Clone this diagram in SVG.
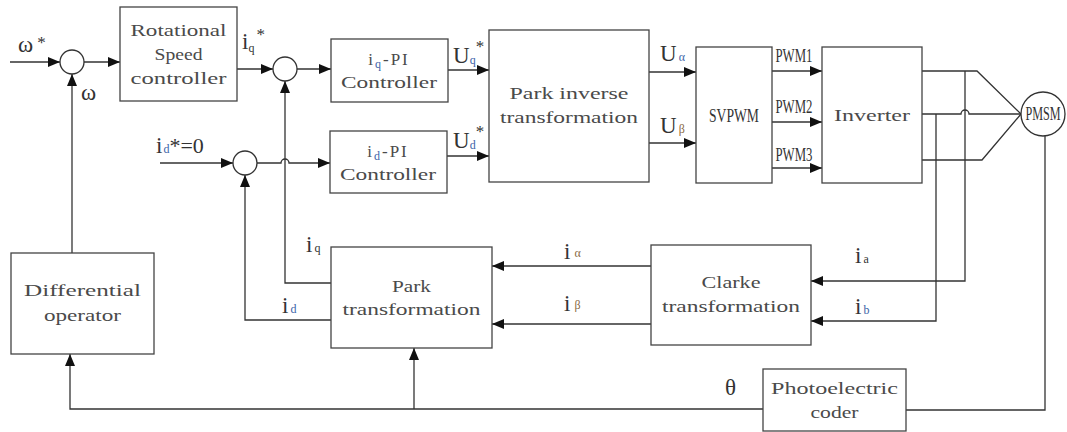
<svg xmlns="http://www.w3.org/2000/svg" width="1067" height="432" viewBox="0 0 1067 432">
  <defs>
    <marker id="arrow" markerUnits="userSpaceOnUse" markerWidth="12" markerHeight="10" refX="12" refY="5" orient="auto">
      <path d="M0,0 L12,5 L0,10 z" fill="#111"/>
    </marker>
    <style>
      .box { fill: #fff; stroke: #444; stroke-width: 1.3; }
      .sum { fill: #fff; stroke: #333; stroke-width: 1.3; }
      .wire { fill: none; stroke: #333; stroke-width: 1.3; }
      .arr { marker-end: url(#arrow); }
      .t { font-family: "Liberation Serif", "DejaVu Serif", serif; font-size: 17px; fill: #4a4a4a; text-anchor: middle; }
      .n { font-family: "Liberation Serif", "DejaVu Serif", serif; font-size: 19px; fill: #333; text-anchor: middle; }
      .lbl { font-family: "Liberation Serif", "DejaVu Serif", serif; font-size: 23px; fill: #333; }
      .sub { font-size: 12px; }
      .sup { font-size: 17px; }
      .blue { fill: #3b63a8; }
      .brown { fill: #8a6a44; }
    </style>
  </defs>

  <!-- connectors -->
  <g id="connectors">
    <!-- speed loop -->
    <path class="wire arr" d="M10,62 H60"/>
    <path class="wire arr" d="M84,62 H120"/>
    <path class="wire arr" d="M72,253 V74"/>
    <!-- current references -->
    <path class="wire arr" d="M237,69 H273"/>
    <path class="wire arr" d="M297,69 H331"/>
    <path class="wire arr" d="M160,163 H233"/>
    <path class="wire arr" d="M257,163 H281 a4,4 0 0 1 8,0 H330"/>
    <!-- PI outputs -->
    <path class="wire arr" d="M448,70 H489"/>
    <path class="wire arr" d="M447,156 H489"/>
    <!-- voltages -->
    <path class="wire arr" d="M649,72 H696"/>
    <path class="wire arr" d="M649,143 H696"/>
    <!-- PWM signals -->
    <path class="wire arr" d="M772,71 H822"/>
    <path class="wire arr" d="M772,122 H822"/>
    <path class="wire arr" d="M772,168 H822"/>
    <!-- phase lines to motor -->
    <path class="wire" d="M922,71 H977 L1021,114"/>
    <path class="wire" d="M922,114 H961 a4,4 0 0 1 8,0 H1021"/>
    <path class="wire" d="M922,160 H982 L1021,114"/>
    <!-- phase current sensing -->
    <path class="wire arr" d="M965,71 V281 H811"/>
    <path class="wire arr" d="M936,114 V321 H811"/>
    <!-- Clarke to Park -->
    <path class="wire arr" d="M651,266 H492"/>
    <path class="wire arr" d="M651,324 H492"/>
    <!-- current feedback -->
    <path class="wire arr" d="M331,283 H285 V81"/>
    <path class="wire arr" d="M331,320 H245 V175"/>
    <!-- position feedback -->
    <path class="wire" d="M1045,136 V410 H906"/>
    <path class="wire arr" d="M763,409 H70 V354"/>
    <path class="wire arr" d="M414,409 V348"/>
  </g>

  <!-- summing junctions -->
  <g id="sum-speed"><circle class="sum" cx="72" cy="62" r="12"/></g>
  <g id="sum-iq"><circle class="sum" cx="285" cy="69" r="12"/></g>
  <g id="sum-id"><circle class="sum" cx="245" cy="163" r="12"/></g>

  <!-- blocks -->
  <g id="speed-controller">
    <rect class="box" x="120" y="7" width="117" height="94"/>
    <text class="t" x="178.5" y="36" textLength="96" lengthAdjust="spacingAndGlyphs">Rotational</text>
    <text class="t" x="178.5" y="60" textLength="48" lengthAdjust="spacingAndGlyphs">Speed</text>
    <text class="t" x="178.5" y="84" textLength="96" lengthAdjust="spacingAndGlyphs">controller</text>
  </g>
  <g id="iq-pi">
    <rect class="box" x="331" y="39" width="117" height="63"/>
    <text class="t" x="389" y="65" letter-spacing="2">i<tspan class="sub blue" dy="3">q</tspan><tspan dy="-3">-PI</tspan></text>
    <text class="t" x="389" y="88" textLength="96" lengthAdjust="spacingAndGlyphs">Controller</text>
  </g>
  <g id="id-pi">
    <rect class="box" x="330" y="131" width="117" height="62"/>
    <text class="t" x="388" y="157" letter-spacing="2">i<tspan class="sub blue" dy="3">d</tspan><tspan dy="-3">-PI</tspan></text>
    <text class="t" x="388" y="180" textLength="96" lengthAdjust="spacingAndGlyphs">Controller</text>
  </g>
  <g id="park-inverse">
    <rect class="box" x="489" y="30" width="160" height="152"/>
    <text class="t" x="569" y="99" textLength="119" lengthAdjust="spacingAndGlyphs">Park inverse</text>
    <text class="t" x="569" y="123" textLength="138" lengthAdjust="spacingAndGlyphs">transformation</text>
  </g>
  <g id="svpwm">
    <rect class="box" x="696" y="47" width="76" height="136"/>
    <text class="n" x="734" y="122" textLength="50" lengthAdjust="spacingAndGlyphs">SVPWM</text>
  </g>
  <g id="inverter">
    <rect class="box" x="822" y="47" width="100" height="136"/>
    <text class="t" x="872" y="121" textLength="76" lengthAdjust="spacingAndGlyphs">Inverter</text>
  </g>
  <g id="pmsm">
    <circle class="sum" cx="1043" cy="114" r="22"/>
    <text class="n" transform="translate(1043,120) scale(0.64,1)" x="0" y="0" font-size="18">PMSM</text>
  </g>
  <g id="differential">
    <rect class="box" x="11" y="253" width="143" height="101"/>
    <text class="t" x="82.5" y="296" textLength="117" lengthAdjust="spacingAndGlyphs">Differential</text>
    <text class="t" x="82.5" y="321" textLength="77" lengthAdjust="spacingAndGlyphs">operator</text>
  </g>
  <g id="park">
    <rect class="box" x="331" y="247" width="161" height="101"/>
    <text class="t" x="411.5" y="292" textLength="39" lengthAdjust="spacingAndGlyphs">Park</text>
    <text class="t" x="411.5" y="315" textLength="138" lengthAdjust="spacingAndGlyphs">transformation</text>
  </g>
  <g id="clarke">
    <rect class="box" x="651" y="245" width="160" height="100"/>
    <text class="t" x="731" y="288" textLength="59" lengthAdjust="spacingAndGlyphs">Clarke</text>
    <text class="t" x="731" y="312" textLength="138" lengthAdjust="spacingAndGlyphs">transformation</text>
  </g>
  <g id="encoder">
    <rect class="box" x="763" y="369" width="143" height="62"/>
    <text class="t" x="834.5" y="394" textLength="127" lengthAdjust="spacingAndGlyphs">Photoelectric</text>
    <text class="t" x="834.5" y="418" textLength="48" lengthAdjust="spacingAndGlyphs">coder</text>
  </g>

  <!-- signal labels -->
  <g id="labels">
    <text class="lbl" x="18" y="52" font-size="21">ω<tspan class="sup" dx="4" dy="-4">*</tspan></text>
    <text class="lbl" x="81" y="100" font-size="20">ω</text>
    <text class="lbl" x="242" y="49">i<tspan class="sub" font-size="15" dy="3">q</tspan><tspan class="sup" dx="2" dy="-12">*</tspan></text>
    <text class="lbl" x="156" y="153">i<tspan class="sub blue" dx="1" dy="0">d</tspan><tspan font-size="22" dy="0">*=0</tspan></text>
    <text class="lbl" x="453" y="63" font-size="22">U<tspan class="sub blue" font-size="14" dy="1">q</tspan><tspan class="sup" dy="-12">*</tspan></text>
    <text class="lbl" x="453" y="148" font-size="22">U<tspan class="sub blue" font-size="14" dy="1">d</tspan><tspan class="sup" dy="-12">*</tspan></text>
    <text class="lbl" x="660" y="61" font-size="20">U<tspan class="sub blue" dx="2">α</tspan></text>
    <text class="lbl" x="660" y="133" font-size="20">U<tspan class="sub brown" dx="2">β</tspan></text>
    <text class="n" x="794" y="62" font-size="18" textLength="37" lengthAdjust="spacingAndGlyphs">PWM1</text>
    <text class="n" x="794" y="113" font-size="18" textLength="37" lengthAdjust="spacingAndGlyphs">PWM2</text>
    <text class="n" x="794" y="161" font-size="18" textLength="37" lengthAdjust="spacingAndGlyphs">PWM3</text>
    <text class="lbl" x="306" y="252">i<tspan class="sub" dx="2">q</tspan></text>
    <text class="lbl" x="282" y="313">i<tspan class="sub blue" dx="2">d</tspan></text>
    <text class="lbl" x="564" y="259">i<tspan class="sub brown" dx="4" dy="-2">α</tspan></text>
    <text class="lbl" x="564" y="311">i<tspan class="sub brown" dx="4" dy="-2">β</tspan></text>
    <text class="lbl" x="855" y="263">i<tspan class="sub" dx="2">a</tspan></text>
    <text class="lbl" x="855" y="314">i<tspan class="sub blue" dx="2">b</tspan></text>
    <text class="lbl" x="725" y="395" font-size="19">θ</text>
  </g>
</svg>
